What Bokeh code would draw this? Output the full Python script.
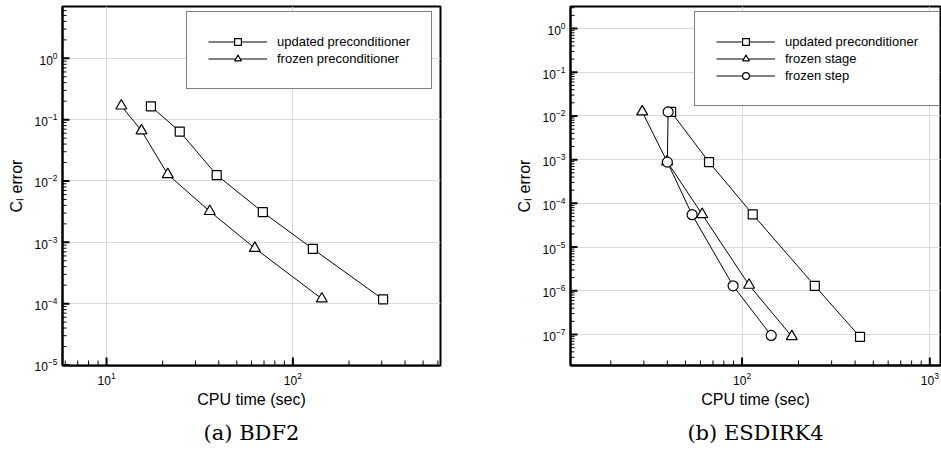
from bokeh.plotting import figure
from bokeh.layouts import row
from bokeh.models import Range1d, FixedTicker, Legend, LegendItem, Title
from bokeh.embed import file_html
from bokeh.resources import INLINE

# ---------------- data ----------------
# (a) BDF2
a_updated_x = [17.3, 24.7, 39.0, 69.0, 128.0, 305.0]
a_updated_y = [0.165, 0.064, 0.0125, 0.0031, 0.00078, 1.17e-4]
a_frozen_x = [12.0, 15.4, 21.3, 35.8, 62.5, 143.0]
a_frozen_y = [0.168, 0.066, 0.0128, 0.0032, 0.00080, 1.2e-4]

# (b) ESDIRK4
b_updated_x = [41.9, 66.7, 114.0, 244.0, 425.0]
b_updated_y = [0.0124, 8.8e-4, 5.6e-5, 1.3e-6, 8.8e-8]
b_stage_x = [29.4, 39.9, 61.3, 109.0, 184.0]
b_stage_y = [0.0125, 9.0e-4, 5.6e-5, 1.35e-6, 9.0e-8]
b_step_x = [40.4, 40.0, 54.2, 89.6, 143.0]
b_step_y = [0.0124, 8.8e-4, 5.5e-5, 1.3e-6, 9.5e-8]

a_xticks = [10, 100]
a_yticks = [1e-5, 1e-4, 1e-3, 1e-2, 1e-1, 1e0]
b_xticks = [100, 1000]
b_yticks = [1e-7, 1e-6, 1e-5, 1e-4, 1e-3, 1e-2, 1e-1, 1e0]

x_label = "CPU time (sec)"
y_label = "C\u2097 error"
caption_a = "(a) BDF2"
caption_b = "(b) ESDIRK4"

SANS = "Liberation Sans"
SERIF = "DejaVu Serif"


def minors(lo_exp, hi_exp):
    return [m * 10.0 ** e for e in range(lo_exp, hi_exp) for m in range(2, 10)]


def inside(vals, lo, hi):
    return [v for v in vals if lo <= v <= hi]


def make_fig(width, left, right, xr, yr, xt, yt, xminor, yminor, caption, cap_offset):
    p = figure(width=width, height=455, x_axis_type="log", y_axis_type="log",
               x_range=Range1d(*xr), y_range=Range1d(*yr),
               output_backend="svg", toolbar_location=None,
               min_border_left=left, min_border_right=right,
               min_border_top=6, min_border_bottom=90)
    p.background_fill_color = "white"
    p.border_fill_color = "white"
    p.outline_line_color = "black"
    p.outline_line_width = 2
    p.xaxis.ticker = FixedTicker(ticks=xt, minor_ticks=xminor)
    p.yaxis.ticker = FixedTicker(ticks=yt, minor_ticks=yminor)
    for ax in (p.xaxis, p.yaxis):
        ax.axis_line_width = 2
        ax.axis_line_color = "black"
        ax.major_tick_in = 0
        ax.major_tick_out = 0
        ax.minor_tick_in = 0
        ax.minor_tick_out = 0
        ax.major_label_text_font = SANS
        ax.major_label_text_font_size = "12px"
        ax.major_label_text_color = "black"
        ax.axis_label_text_font = SANS
        ax.axis_label_text_font_size = "16px"
        ax.axis_label_text_font_style = "normal"
        ax.axis_label_text_color = "black"
    p.xaxis.axis_label = x_label
    p.yaxis.axis_label = y_label
    p.xaxis.major_label_standoff = 6
    p.xaxis.axis_label_standoff = 3
    p.yaxis.major_label_standoff = 5
    p.yaxis.axis_label_standoff = 7
    p.xgrid.ticker = FixedTicker(ticks=xt)
    p.ygrid.ticker = FixedTicker(ticks=yt)
    p.grid.grid_line_color = "#d9d9d9"
    p.grid.grid_line_width = 1

    # inward tick marks drawn from the axis edges
    x0, y0 = xr[0], yr[0]
    xmaj = inside(xt, *xr)
    xmin = inside(xminor, *xr)
    ymaj = inside(yt, *yr)
    ymin = inside(yminor, *yr)
    p.ray(x=xmaj, y=[y0] * len(xmaj), length=8, angle=90, angle_units="deg",
          length_units="screen", line_color="black", line_width=2)
    p.ray(x=xmin, y=[y0] * len(xmin), length=5, angle=90, angle_units="deg",
          length_units="screen", line_color="black", line_width=1)
    p.ray(x=[x0] * len(ymaj), y=ymaj, length=7, angle=0, angle_units="deg",
          length_units="screen", line_color="black", line_width=2)
    p.ray(x=[x0] * len(ymin), y=ymin, length=4, angle=0, angle_units="deg",
          length_units="screen", line_color="black", line_width=1)

    t = Title(text=caption, align="center", text_font=SERIF,
              text_font_size="21px", text_font_style="normal",
              text_color="black", standoff=16, offset=cap_offset)
    p.add_layout(t, "below")
    return p


def series(p, x, y, marker, size):
    ln = p.line(x, y, line_color="black", line_width=1)
    sc = p.scatter(x, y, marker=marker, size=size, fill_color="white",
                   line_color="black", line_width=1.2)
    return [ln, sc]


def add_legend(p, items, loc):
    leg = Legend(items=[LegendItem(label=lab, renderers=r) for lab, r in items],
                 location=loc, orientation="vertical",
                 label_text_font=SANS, label_text_font_size="13px",
                 label_text_color="black",
                 glyph_width=59, glyph_height=17, label_height=14,
                 label_standoff=10, padding=21, spacing=-1, margin=0,
                 border_line_color="black", border_line_width=1,
                 background_fill_color="white", background_fill_alpha=1.0)
    p.add_layout(leg)


pa = make_fig(470, 62, 30, (5.8, 620), (0.98e-5, 7.0), a_xticks, a_yticks,
              minors(0, 3), minors(-5, 1), caption_a, -8)
ra1 = series(pa, a_updated_x, a_updated_y, "square", 9)
ra2 = series(pa, a_frozen_x, a_frozen_y, "triangle", 11)
add_legend(pa, [("updated preconditioner", ra1), ("frozen preconditioner", ra2)], (124, 276))

pb = make_fig(471, 100, 1, (12.2, 1140), (1.95e-8, 3.2), b_xticks, b_yticks,
              minors(1, 4), minors(-8, 1), caption_b, -5)
rb1 = series(pb, b_updated_x, b_updated_y, "square", 9)
rb2 = series(pb, b_stage_x, b_stage_y, "triangle", 11)
rb3 = series(pb, b_step_x, b_step_y, "circle", 10)
add_legend(pb, [("updated preconditioner", rb1), ("frozen stage", rb2), ("frozen step", rb3)], (124, 259))

layout = row(pa, pb)
open("out.html", "w").write(file_html(layout, INLINE))
